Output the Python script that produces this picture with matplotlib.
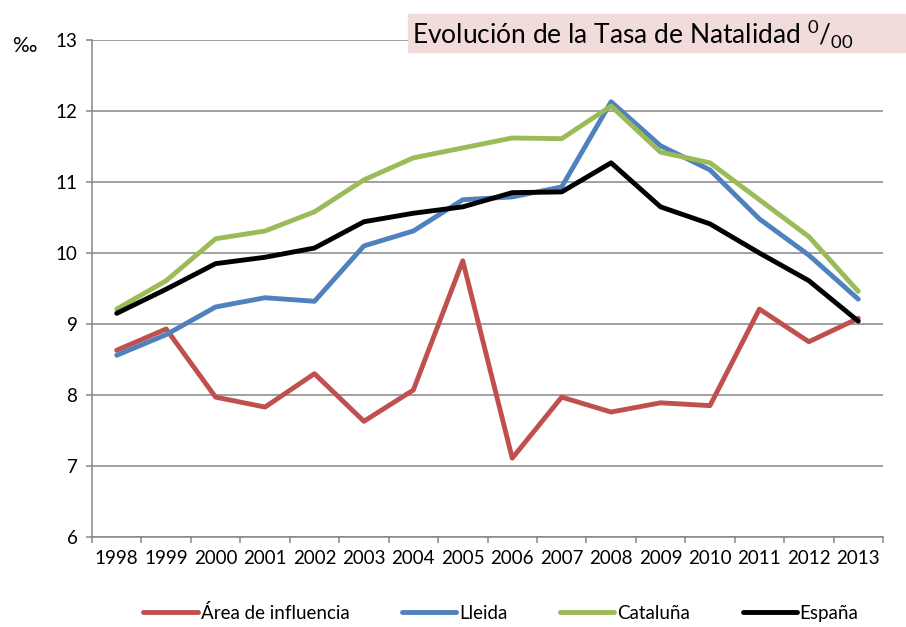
"""Evolución de la Tasa de Natalidad (1998-2013)."""

import matplotlib

matplotlib.use("Agg")

import matplotlib.pyplot as plt
from matplotlib.patches import Rectangle
from matplotlib.ticker import FixedLocator

years = [str(y) for y in range(1998, 2014)]
area_influencia = [8.63, 8.93, 7.97, 7.83, 8.30, 7.63, 8.07, 9.89,
                   7.11, 7.97, 7.76, 7.89, 7.85, 9.21, 8.75, 9.08]
lleida = [8.56, 8.85, 9.24, 9.37, 9.32, 10.10, 10.31, 10.75,
          10.79, 10.93, 12.13, 11.51, 11.17, 10.48, 9.97, 9.35]
cataluna = [9.21, 9.61, 10.20, 10.31, 10.58, 11.03, 11.34, 11.48,
            11.62, 11.61, 12.07, 11.42, 11.27, 10.75, 10.23, 9.46]
espana = [9.15, 9.49, 9.85, 9.94, 10.07, 10.44, 10.56, 10.65,
          10.85, 10.86, 11.27, 10.65, 10.41, 10.00, 9.61, 9.04]

series = [
    ("Área de influencia", area_influencia, "#c0504d"),
    ("Lleida", lleida, "#4f81bd"),
    ("Cataluña", cataluna, "#9bbb59"),
    ("España", espana, "#000000"),
]

plt.rcParams["font.family"] = ["Lato", "DejaVu Sans"]
plt.rcParams["mathtext.fontset"] = "custom"
plt.rcParams["mathtext.rm"] = "Lato"

grid_color = "#868686"

fig = plt.figure(figsize=(9.06, 6.27), dpi=100)
ax = fig.add_axes([92 / 906, 1 - 537 / 627, 791 / 906, 497 / 627])

x = range(len(years))
for label, values, color in series:
    ax.plot(x, values, color=color, lw=3.5, label=label,
            solid_joinstyle="round", solid_capstyle="round")

ax.set_xlim(-0.5, len(years) - 0.5)
ax.set_ylim(6, 13)
ax.set_yticks(range(6, 14))
ax.set_xticks(list(x))
ax.set_xticklabels(years)
ax.xaxis.set_minor_locator(FixedLocator([i - 0.5 for i in range(len(years) + 1)]))

ax.yaxis.grid(True, color=grid_color, lw=1.1)
ax.set_axisbelow(True)
for side in ("top", "right"):
    ax.spines[side].set_visible(False)
for side in ("left", "bottom"):
    ax.spines[side].set_color(grid_color)
    ax.spines[side].set_linewidth(1.1)

ax.tick_params(axis="y", length=4.5, width=1.1, color=grid_color,
               labelsize=13.5, pad=6)
ax.tick_params(axis="x", which="major", length=0, labelsize=13.5, pad=9)
ax.tick_params(axis="x", which="minor", length=4, width=1.1, color=grid_color)

fig.text(12 / 906, 1 - 46 / 627, "‰", fontsize=15, va="center", ha="left")

fig.patches.append(Rectangle((408 / 906, 1 - 52 / 627), 497 / 906, 38 / 627,
                             transform=fig.transFigure, color="#f2dcdb",
                             zorder=2))
fig.text(412 / 906, 1 - 33 / 627,
         r"Evolución de la Tasa de Natalidad $^{0}$/$_{00}$",
         fontsize=19, va="center", ha="left", zorder=3)

fig.legend(loc="center", bbox_to_anchor=(501 / 906, 1 - 613 / 627), ncol=4,
           frameon=False, fontsize=13.5, handlelength=2.9,
           handletextpad=0.15, columnspacing=2.8)

fig.savefig("out.png", dpi=100)
plt.close(fig)
